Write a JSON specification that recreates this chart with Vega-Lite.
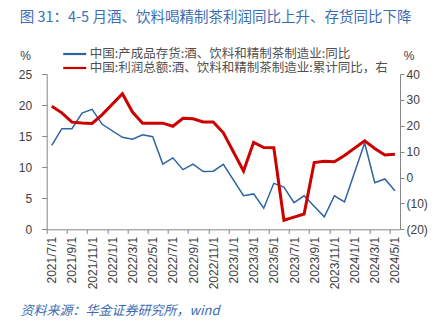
{
  "$schema": "https://vega.github.io/schema/vega-lite/v6.json",
  "width": 353.3,
  "height": 155.3,
  "autosize": "none",
  "padding": {"left": 46.7, "top": 74, "right": 42, "bottom": 95.7},
  "background": "white",
  "title": {
    "text": "图 31：4-5 月酒、饮料喝精制茶利润同比上升、存货同比下降",
    "anchor": "start",
    "frame": "group",
    "font": "Noto Sans CJK SC",
    "fontSize": 14.5,
    "fontWeight": "normal",
    "color": "#3b6db3",
    "dx": -27,
    "dy": -12,
    "offset": 10
  },
  "datasets": {
    "inventory": [
      {"month": "2021/7/1", "value": 13.5},
      {"month": "2021/8/1", "value": 16.2},
      {"month": "2021/9/1", "value": 16.2},
      {"month": "2021/10/1", "value": 18.7},
      {"month": "2021/11/1", "value": 19.3},
      {"month": "2021/12/1", "value": 16.9},
      {"month": "2022/2/1", "value": 14.8},
      {"month": "2022/3/1", "value": 14.5},
      {"month": "2022/4/1", "value": 15.2},
      {"month": "2022/5/1", "value": 14.9},
      {"month": "2022/6/1", "value": 10.5},
      {"month": "2022/7/1", "value": 11.5},
      {"month": "2022/8/1", "value": 9.6},
      {"month": "2022/9/1", "value": 10.5},
      {"month": "2022/10/1", "value": 9.3},
      {"month": "2022/11/1", "value": 9.35},
      {"month": "2022/12/1", "value": 10.45},
      {"month": "2023/2/1", "value": 5.4},
      {"month": "2023/3/1", "value": 5.7},
      {"month": "2023/4/1", "value": 3.4},
      {"month": "2023/5/1", "value": 7.4},
      {"month": "2023/6/1", "value": 6.8},
      {"month": "2023/7/1", "value": 4.3},
      {"month": "2023/8/1", "value": 5.4},
      {"month": "2023/9/1", "value": 3.7},
      {"month": "2023/10/1", "value": 2.0},
      {"month": "2023/11/1", "value": 5.4},
      {"month": "2023/12/1", "value": 4.4},
      {"month": "2024/2/1", "value": 13.9},
      {"month": "2024/3/1", "value": 7.5},
      {"month": "2024/4/1", "value": 8.1},
      {"month": "2024/5/1", "value": 6.2}
    ],
    "profit": [
      {"month": "2021/7/1", "value": 27.5},
      {"month": "2021/8/1", "value": 25.0},
      {"month": "2021/9/1", "value": 21.4},
      {"month": "2021/10/1", "value": 21.1},
      {"month": "2021/11/1", "value": 20.9},
      {"month": "2021/12/1", "value": 24.3},
      {"month": "2022/2/1", "value": 32.4},
      {"month": "2022/3/1", "value": 25.3},
      {"month": "2022/4/1", "value": 21.0},
      {"month": "2022/5/1", "value": 21.0},
      {"month": "2022/6/1", "value": 21.0},
      {"month": "2022/7/1", "value": 19.8},
      {"month": "2022/8/1", "value": 22.9},
      {"month": "2022/9/1", "value": 22.7},
      {"month": "2022/10/1", "value": 21.5},
      {"month": "2022/11/1", "value": 21.5},
      {"month": "2022/12/1", "value": 17.3},
      {"month": "2023/2/1", "value": 2.5},
      {"month": "2023/3/1", "value": 13.6},
      {"month": "2023/4/1", "value": 11.6},
      {"month": "2023/5/1", "value": 11.5},
      {"month": "2023/6/1", "value": -16.5},
      {"month": "2023/7/1", "value": -15.3},
      {"month": "2023/8/1", "value": -14.1},
      {"month": "2023/9/1", "value": 5.8},
      {"month": "2023/10/1", "value": 6.3},
      {"month": "2023/11/1", "value": 6.1},
      {"month": "2023/12/1", "value": 8.5},
      {"month": "2024/2/1", "value": 14.2},
      {"month": "2024/3/1", "value": 11.2},
      {"month": "2024/4/1", "value": 8.7},
      {"month": "2024/5/1", "value": 9.0}
    ]
  },
  "layer": [
    {
      "data": {"name": "inventory"},
      "mark": {"type": "line", "strokeWidth": 1.5},
      "encoding": {
        "x": {
          "field": "month",
          "type": "ordinal",
          "sort": null,
          "scale": {
            "type": "point",
            "padding": 0.5,
            "domain": ["2021/7/1","2021/8/1","2021/9/1","2021/10/1","2021/11/1","2021/12/1","2022/1/1","2022/2/1","2022/3/1","2022/4/1","2022/5/1","2022/6/1","2022/7/1","2022/8/1","2022/9/1","2022/10/1","2022/11/1","2022/12/1","2023/1/1","2023/2/1","2023/3/1","2023/4/1","2023/5/1","2023/6/1","2023/7/1","2023/8/1","2023/9/1","2023/10/1","2023/11/1","2023/12/1","2024/1/1","2024/2/1","2024/3/1","2024/4/1","2024/5/1"]
          },
          "axis": {
            "values": ["2021/7/1","2021/9/1","2021/11/1","2022/1/1","2022/3/1","2022/5/1","2022/7/1","2022/9/1","2022/11/1","2023/1/1","2023/3/1","2023/5/1","2023/7/1","2023/9/1","2023/11/1","2024/1/1","2024/3/1","2024/5/1"],
            "labelAngle": -90,
            "tickOffset": -5.05,
            "labelOffset": 5.05,
            "tickSize": 4,
            "labelPadding": 3,
            "title": "资料来源：华金证券研究所，wind",
            "titleFont": "Noto Sans CJK SC",
            "titleFontStyle": "italic",
            "titleFontWeight": "normal",
            "titleFontSize": 13,
            "titleColor": "#3b6db3",
            "titleAlign": "left",
            "titleAnchor": "start",
            "titleBaseline": "middle",
            "titleX": -26.7,
            "titleY": 81
          }
        },
        "y": {
          "field": "value",
          "type": "quantitative",
          "scale": {"domain": [0, 25], "nice": false, "zero": false},
          "axis": {
            "values": [0, 5, 10, 15, 20, 25],
            "orient": "left",
            "tickSize": 5,
            "labelPadding": 10,
            "title": "%",
            "titleAngle": 0,
            "titleX": -21.7,
            "titleY": -19,
            "titleAlign": "center",
            "titleBaseline": "middle"
          }
        },
        "color": {
          "datum": "中国:产成品存货:酒、饮料和精制茶制造业:同比",
          "type": "nominal",
          "scale": {
            "domain": ["中国:产成品存货:酒、饮料和精制茶制造业:同比", "中国:利润总额:酒、饮料和精制茶制造业:累计同比，右"],
            "range": ["#2f64a3", "#cc0000"]
          },
          "legend": {
            "orient": "none",
            "legendX": 21,
            "legendY": -27,
            "title": null,
            "padding": 0,
            "rowPadding": -3,
            "symbolType": "M-2,0H2",
            "symbolSize": 132,
            "symbolStrokeWidth": 2.2,
            "labelOffset": 8,
            "labelLimit": 400,
            "labelFont": "Noto Sans CJK SC",
            "labelFontSize": 12.5,
            "labelColor": "#505050"
          }
        }
      }
    },
    {
      "data": {"name": "profit"},
      "mark": {"type": "line", "strokeWidth": 3},
      "encoding": {
        "x": {"field": "month", "type": "ordinal", "sort": null},
        "y": {
          "field": "value",
          "type": "quantitative",
          "scale": {"domain": [-20, 40], "nice": false, "zero": false},
          "axis": {
            "values": [-20, -10, 0, 10, 20, 30, 40],
            "orient": "right",
            "tickSize": 4,
            "labelPadding": 2,
            "labelExpr": "datum.value < 0 ? '(' + abs(datum.value) + ')' : '' + datum.value",
            "title": "%",
            "titleAngle": 0,
            "titleX": 8.5,
            "titleY": -19,
            "titleAlign": "center",
            "titleBaseline": "middle"
          }
        },
        "color": {"datum": "中国:利润总额:酒、饮料和精制茶制造业:累计同比，右", "type": "nominal"}
      }
    }
  ],
  "resolve": {"scale": {"y": "independent"}},
  "config": {
    "view": {"stroke": null},
    "axis": {
      "grid": false,
      "domainColor": "#868686",
      "tickColor": "#868686",
      "labelColor": "#404040",
      "labelFont": "Liberation Sans",
      "labelFontSize": 12,
      "titleFont": "Liberation Sans",
      "titleFontSize": 12,
      "titleFontWeight": "normal",
      "titleColor": "#404040"
    }
  }
}
